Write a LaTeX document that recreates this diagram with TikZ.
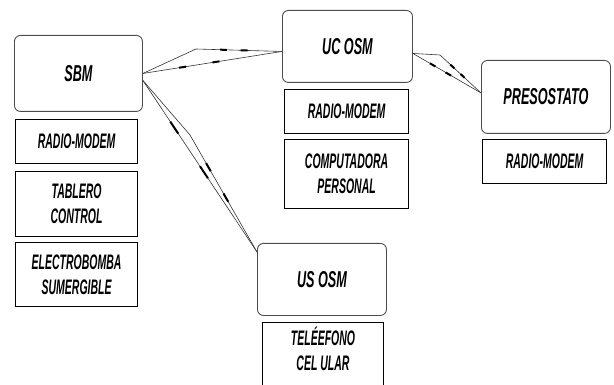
\documentclass[tikz,border=0pt]{standalone}
\usepackage{fontspec}
\setmainfont{Liberation Sans}[FakeStretch=0.55]
\newfontfamily\subfnt{Liberation Sans}[FakeStretch=0.5]
\usetikzlibrary{calc}
\tikzset{
  lbl/.style={font=\subfnt\fontsize{21}{25}\selectfont\bfseries\itshape, align=center, inner sep=0pt},
  mainlbl/.style={font=\fontsize{23}{25}\selectfont\bfseries\itshape, align=center, inner sep=0pt},
  mainbox/.style={mainlbl, draw=black!70, line width=0.9pt, rounded corners=6pt, anchor=north west},
  subbox/.style={lbl, draw=black, line width=1.2pt, anchor=north west},
  wire/.style={draw=black!80, line width=0.6pt},
  bolt/.style={draw=black, line width=2pt},
}
\begin{document}
\begin{tikzpicture}[x=1pt,y=-1pt]
\useasboundingbox (0,0) rectangle (614,385);
% main nodes
\node[mainbox, minimum width=128pt, minimum height=76pt] (sbm) at (14,35) {SBM};
\node[mainbox, minimum width=130pt, minimum height=72pt] (uc) at (282,10) {UC OSM};
\node[mainbox, minimum width=129pt, minimum height=73pt] (pres) at (481,60) {PRESOSTATO};
\node[mainbox, minimum width=129pt, minimum height=72pt] (us) at (257,243) {US OSM};
% sub boxes
\node[subbox, minimum width=122pt, minimum height=44pt] (sbmrm) at (15,119) {RADIO-MODEM};
\node[subbox, minimum width=122pt, minimum height=65pt] (tab) at (15,171) {TABLERO\\CONTROL};
\node[subbox, minimum width=122pt, minimum height=64pt] (elec) at (15,242) {ELECTROBOMBA\\SUMERGIBLE};
\node[subbox, minimum width=124pt, minimum height=44pt] (ucrm) at (284,89) {RADIO-MODEM};
\node[subbox, minimum width=124pt, minimum height=69pt] (pc) at (284,139) {COMPUTADORA\\PERSONAL};
\node[subbox, minimum width=124pt, minimum height=44pt] (presrm) at (482,139) {RADIO-MODEM};
\begin{scope}
\clip (0,0) rectangle (614,385);
\node[subbox, minimum width=121pt, minimum height=90pt] (tel) at (262,322) {};
\node[lbl, anchor=north] (teltext) at (323,327) {TEL\'EEFONO\\CEL ULAR};
\end{scope}
% connector end points
\coordinate (s1) at (sbm.east);
\coordinate (u1) at ([yshift=-5pt]uc.west);
\coordinate (sk1) at (196,49);
\coordinate (s2) at ([yshift=-7pt]sbm.east);
\coordinate (us1) at ([yshift=-9pt]us.north west);
\coordinate (sk2) at (190,135);
\coordinate (u2) at ([yshift=-7pt]uc.east);
\coordinate (pk) at (440,55);
\coordinate (p2) at ([yshift=4pt]pres.west);
% SBM -- UC OSM
\draw[wire] (s1) -- (u1);
\draw[wire] (s1) -- (sk1) -- (u1);
\draw[bolt] ($(s1)!0.26!(u1)$) -- ($(s1)!0.31!(u1)$);
\draw[bolt] ($(s1)!0.5!(u1)$) -- ($(s1)!0.55!(u1)$);
\draw[bolt] ($(sk1)!0.28!(u1)$) -- ($(sk1)!0.36!(u1)$);
\draw[bolt] ($(sk1)!0.52!(u1)$) -- ($(sk1)!0.6!(u1)$);
% SBM -- US OSM
\draw[wire] (s2) -- (us1);
\draw[wire] (s2) -- (sk2) -- (us1);
\draw[bolt] ($(s2)!0.24!(us1)$) -- ($(s2)!0.31!(us1)$);
\draw[bolt] ($(s2)!0.5!(us1)$) -- ($(s2)!0.57!(us1)$);
\draw[bolt] ($(sk2)!0.24!(us1)$) -- ($(sk2)!0.31!(us1)$);
\draw[bolt] ($(sk2)!0.5!(us1)$) -- ($(sk2)!0.57!(us1)$);
% UC OSM -- PRESOSTATO
\draw[wire] (u2) -- (p2);
\draw[wire] (u2) -- (pk) -- (p2);
\draw[bolt] ($(u2)!0.25!(p2)$) -- ($(u2)!0.33!(p2)$);
\draw[bolt] ($(u2)!0.48!(p2)$) -- ($(u2)!0.56!(p2)$);
\draw[bolt] ($(pk)!0.25!(p2)$) -- ($(pk)!0.35!(p2)$);
\draw[bolt] ($(pk)!0.5!(p2)$) -- ($(pk)!0.6!(p2)$);
\end{tikzpicture}
\end{document}
